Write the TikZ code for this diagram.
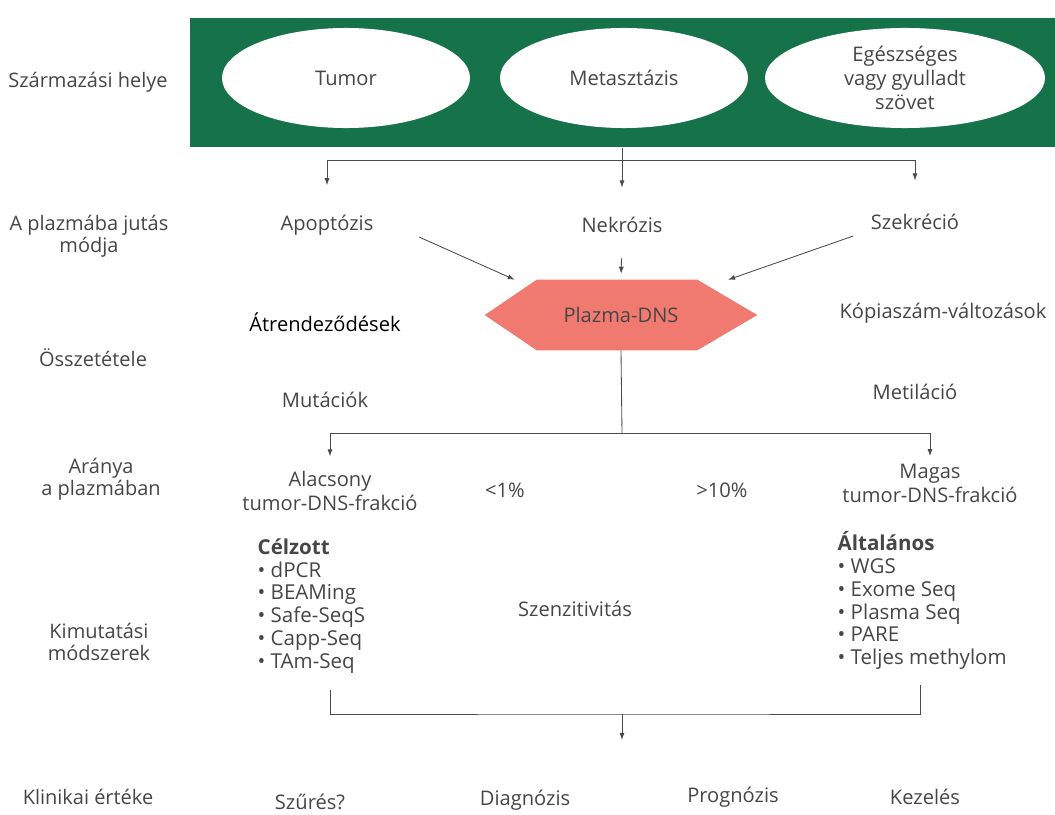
\documentclass[tikz,border=0pt]{standalone}
\usepackage{fontspec}
\setmainfont{Open Sans}
\usetikzlibrary{positioning,arrows.meta,backgrounds,shapes.geometric}
\definecolor{bandgreen}{RGB}{22,114,72}
\definecolor{hexsalmon}{RGB}{241,122,112}
\definecolor{txtgray}{RGB}{70,70,70}
\definecolor{linegray}{RGB}{75,75,75}

\tikzset{
  txt/.style={text=txtgray,font=\fontsize{14.3}{17}\selectfont,align=center,inner sep=1pt},
  rowlabel/.style={txt,font=\fontsize{14.2}{16.5}\selectfont},
  blob/.style={ellipse,fill=white,minimum width=6.2cm,minimum height=2.5cm,txt},
  conn/.style={draw=linegray,line width=0.6pt},
  arr/.style={conn,-{Latex[length=5pt,width=3.6pt]}},
  methlist/.style={txt,align=left,anchor=north west,font=\fontsize{14.6}{16.2}\selectfont}
}

\begin{document}
\begin{tikzpicture}[x=0.025cm,y=-0.025cm]
  \useasboundingbox (0,0) rectangle (1055,815);

  % row labels
  \node[rowlabel] (lorigin) at (88,82) {Származási helye};
  \node[rowlabel] (lroute)  at (89,237) {\begin{tabular}{@{}c@{}}A plazmába jutás\\[-1pt]módja\end{tabular}};
  \node[rowlabel] (lcomp)   at (93,358) {Összetétele};
  \node[rowlabel] (lfrac)   at (101,480) {\begin{tabular}{@{}c@{}}Aránya\\[-1pt]a plazmában\end{tabular}};
  \node[rowlabel] (lmeth)   at (99,645) {\begin{tabular}{@{}c@{}}Kimutatási\\[-1pt]módszerek\end{tabular}};
  \node[rowlabel] (lclin)   at (88,797) {Klinikai értéke};

  % origin band
  \node[fill=bandgreen,anchor=north west,minimum width=21.625cm,minimum height=3.225cm,inner sep=0pt] (band) at (190,18) {};
  \node[blob] (tumor)   at (346,78) {Tumor};
  \node[blob] (meta)    at (624,78) {Metasztázis};
  \node[blob,minimum width=7cm] (healthy) at (905,78) {Egészséges\\vagy gyulladt\\szövet};

  % route into plasma
  \node[txt] (apop)  at (327,225) {Apoptózis};
  \node[txt] (nekr)  at (622,225) {Nekrózis};
  \node[txt] (szekr) at (915,222) {Szekréció};

  \coordinate (j1) at (622,160);
  \draw[conn] (band.south -| j1) -- (j1);
  \draw[arr,shorten >=0.7cm] (j1) -| (apop.north);
  \draw[arr,shorten >=0.7cm] (j1) -- (nekr.north);
  \draw[arr,shorten >=0.8cm] (j1) -| (szekr.north);

  % plasma DNA
  \node[txt,minimum width=6.8cm,minimum height=1.75cm] (dna) at (621,315) {Plazma-DNS};
  \begin{scope}[on background layer]
    \fill[hexsalmon] (dna.west) -- ([xshift=1.3cm]dna.north west) -- ([xshift=-1.5cm]dna.north east)
      -- (dna.east) -- ([xshift=-1.5cm]dna.south east) -- ([xshift=1.3cm]dna.south west) -- cycle;
  \end{scope}
  \draw[arr] ([shift={(44,12)}]apop.east) -- ([xshift=0.75cm]dna.north west);
  \draw[arr,shorten <=0.6cm,shorten >=0.15cm] (nekr.south) -- (dna.north);
  \draw[arr] ([shift={(-16,14)}]szekr.west) -- ([xshift=-0.73cm]dna.north east);

  % composition
  \node[txt,text=black] (rearr) at (325,322) {Átrendeződések};
  \node[txt] (mut)   at (325,400) {Mutációk};
  \node[txt] (copy)  at (943,313) {Kópiaszám-változások};
  \node[txt] (meth)  at (915,392) {Metiláció};

  % tumour fraction
  \coordinate (j2) at (622,433);
  \node[txt] (low)  at (330,491) {Alacsony\\tumor-DNS-frakció};
  \node[txt] (high) at (930,483) {Magas\\tumor-DNS-frakció};
  \node[txt] (lt)   at (505,490) {<1\%};
  \node[txt] (gt)   at (722,490) {>10\%};
  \draw[conn] (dna.south) -- (j2);
  \draw[arr,shorten >=0.33cm] (j2) -| (low.north);
  \draw[arr,shorten >=0.15cm] (j2) -| (high.north);

  % detection methods
  \node[methlist] (targ) at (256,537) {\textbf{Célzott}\\• dPCR\\• BEAMing\\• Safe-SeqS\\• Capp-Seq\\• TAm-Seq};
  \node[methlist] (gen)  at (836,530) {\textbf{Általános}\\• WGS\\• Exome Seq\\• Plasma Seq\\• PARE\\• Teljes methylom};
  \node[txt] (sens) at (575,609) {Szenzitivitás};

  \coordinate (bl) at (330,690);
  \coordinate (br) at (920,685);
  \coordinate (j3) at (622,714);
  \coordinate (clin) at (622,740);
  \draw[conn] (bl) |- (j3) -| (br);
  \draw[arr] (j3) -- (clin);

  % clinical value
  \node[txt] (scr)  at (310,802) {Szűrés?};
  \node[txt] (diag) at (525,800) {Diagnózis};
  \node[txt] (prog) at (733,797) {Prognózis};
  \node[txt] (treat) at (925,797) {Kezelés};
\end{tikzpicture}
\end{document}
